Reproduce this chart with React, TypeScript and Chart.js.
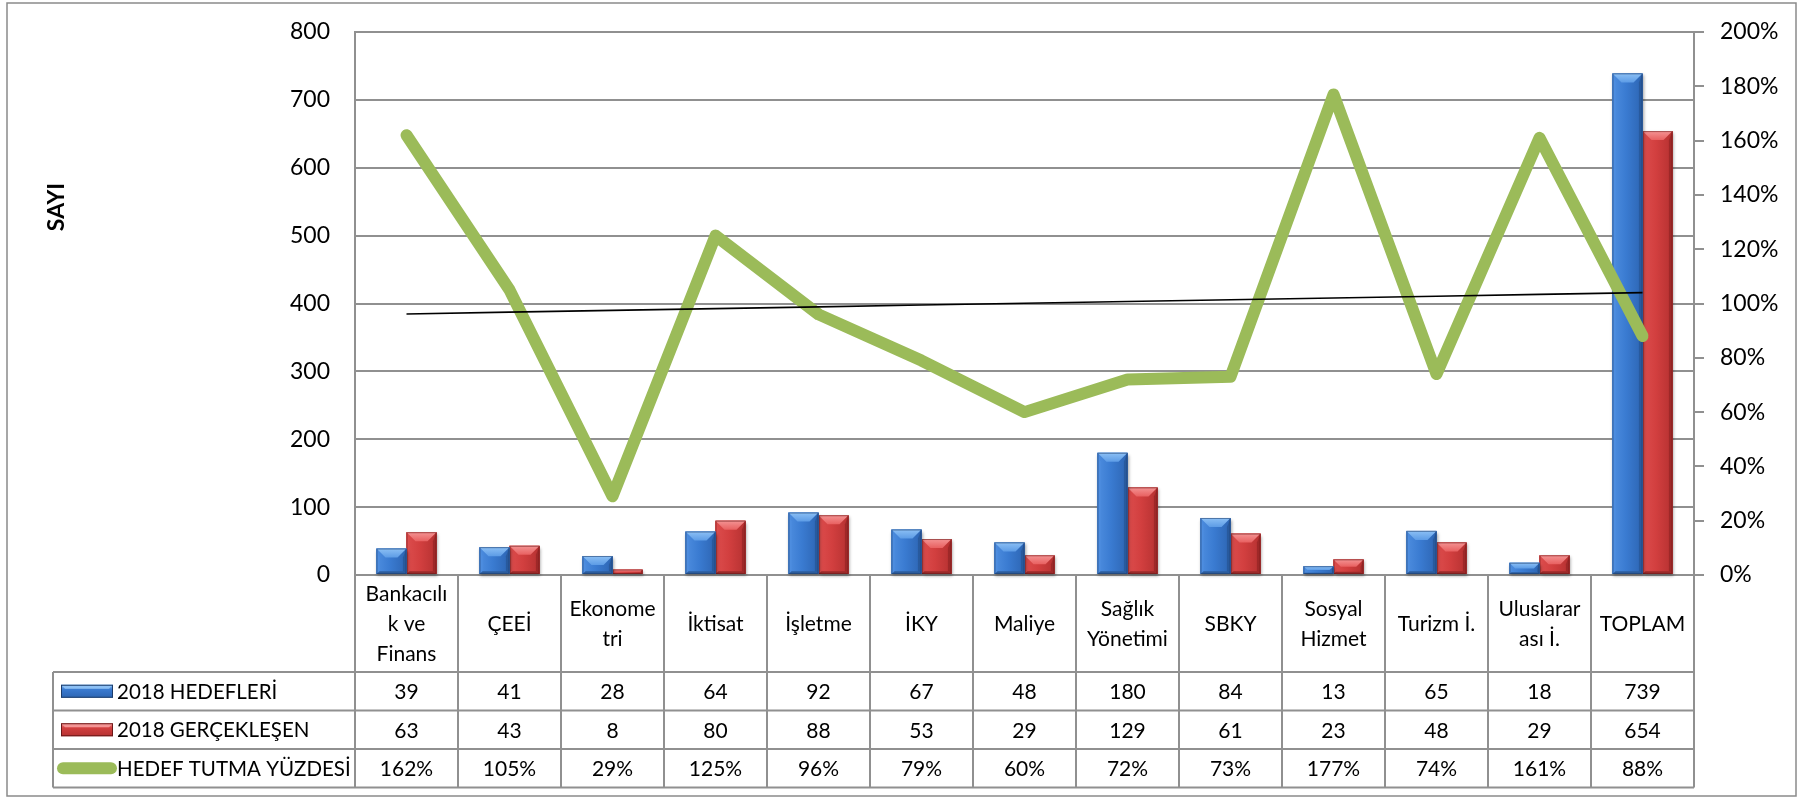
import React, { useEffect, useRef } from "react";
import { Chart, registerables } from "chart.js";

Chart.register(...registerables);

// ---- data ----
const categories: string[][] = [
  ["Bankacılı", "k ve", "Finans"],
  ["ÇEEİ"],
  ["Ekonome", "tri"],
  ["İktisat"],
  ["İşletme"],
  ["İKY"],
  ["Maliye"],
  ["Sağlık", "Yönetimi"],
  ["SBKY"],
  ["Sosyal", "Hizmet"],
  ["Turizm İ."],
  ["Uluslarar", "ası İ."],
  ["TOPLAM"],
];
const hedefler = [39, 41, 28, 64, 92, 67, 48, 180, 84, 13, 65, 18, 739];
const gerceklesen = [63, 43, 8, 80, 88, 53, 29, 129, 61, 23, 48, 29, 654];
const yuzde = [162, 105, 29, 125, 96, 79, 60, 72, 73, 177, 74, 161, 88];
const seriesNames = ["2018 HEDEFLERİ", "2018 GERÇEKLEŞEN", "HEDEF TUTMA YÜZDESİ"];
const axisTitle = "SAYI";
const leftAxisMax = 800;
const leftAxisStep = 100;
const rightAxisMax = 200;
const rightAxisStep = 20;

// linear trendline (least squares) of the percentage series, as Excel draws it
function trendline(values: number[]): number[] {
  const n = values.length;
  const xs = values.map((_, i) => i + 1);
  const mx = xs.reduce((a, b) => a + b, 0) / n;
  const my = values.reduce((a, b) => a + b, 0) / n;
  let sxy = 0, sxx = 0;
  for (let i = 0; i < n; i++) {
    sxy += (xs[i] - mx) * (values[i] - my);
    sxx += (xs[i] - mx) * (xs[i] - mx);
  }
  const slope = sxy / sxx;
  return xs.map((x) => my + slope * (x - mx));
}

const FONT = "Lato, 'Open Sans', 'Liberation Sans', sans-serif";
const GRID = "#909090";
const GREEN = "#9BBB59";

const BLUE = {
  body: "#3a7bd1",
  light: "#4d8ddf",
  dark: "#2d65b3",
  top: "#8cc0f5",
  top2: "#5d9ce6",
  right: "#285a9e",
  bottom: "#2c5c9c",
  edge: "#1d3c6a",
};
const RED = {
  body: "#d23f3f",
  light: "#dc4d4d",
  dark: "#b53131",
  top: "#f49494",
  top2: "#e86060",
  right: "#9e2828",
  bottom: "#9a2a2a",
  edge: "#6a1818",
};

function drawBevelBar(ctx: CanvasRenderingContext2D, left: number, top: number, w: number, h: number, p: any) {
  if (h <= 0) return;
  const b = Math.min(9, h / 2, w / 3);
  ctx.save();
  ctx.shadowColor = "rgba(0,0,0,0.35)";
  ctx.shadowBlur = 3;
  ctx.shadowOffsetX = 1;
  ctx.shadowOffsetY = 2;
  ctx.fillStyle = p.body;
  ctx.fillRect(left, top, w, h);
  ctx.restore();

  ctx.save();
  const g = ctx.createLinearGradient(left, 0, left + w, 0);
  g.addColorStop(0, p.light);
  g.addColorStop(0.45, p.body);
  g.addColorStop(1, p.dark);
  ctx.fillStyle = g;
  ctx.fillRect(left, top, w, h);

  ctx.beginPath();
  ctx.moveTo(left, top);
  ctx.lineTo(left + b * 0.35, top + b);
  ctx.lineTo(left + b * 0.35, top + h - b * 0.3);
  ctx.lineTo(left, top + h);
  ctx.closePath();
  ctx.fillStyle = p.light;
  ctx.fill();

  ctx.beginPath();
  ctx.moveTo(left + w, top);
  ctx.lineTo(left + w - b * 0.4, top + b);
  ctx.lineTo(left + w - b * 0.4, top + h - b * 0.3);
  ctx.lineTo(left + w, top + h);
  ctx.closePath();
  ctx.fillStyle = p.right;
  ctx.fill();

  ctx.beginPath();
  ctx.moveTo(left, top + h);
  ctx.lineTo(left + b * 0.35, top + h - b * 0.3);
  ctx.lineTo(left + w - b * 0.4, top + h - b * 0.3);
  ctx.lineTo(left + w, top + h);
  ctx.closePath();
  ctx.fillStyle = p.bottom;
  ctx.fill();

  const tg = ctx.createLinearGradient(0, top, 0, top + b);
  tg.addColorStop(0, p.top);
  tg.addColorStop(1, p.top2);
  ctx.beginPath();
  ctx.moveTo(left, top);
  ctx.lineTo(left + w, top);
  ctx.lineTo(left + w - b, top + b);
  ctx.lineTo(left + b, top + b);
  ctx.closePath();
  ctx.fillStyle = tg;
  ctx.fill();

  ctx.strokeStyle = p.edge;
  ctx.globalAlpha = 0.55;
  ctx.lineWidth = 1;
  ctx.strokeRect(left + 0.5, top + 0.5, w - 1, h - 1);
  ctx.restore();
}

function drawLegendSwatch(ctx: CanvasRenderingContext2D, kind: number, x: number, yc: number) {
  if (kind === 2) {
    ctx.save();
    ctx.strokeStyle = GREEN;
    ctx.lineWidth = 12;
    ctx.lineCap = "round";
    ctx.beginPath();
    ctx.moveTo(63, yc);
    ctx.lineTo(111, yc);
    ctx.stroke();
    ctx.restore();
    return;
  }
  const p = kind === 0 ? BLUE : RED;
  const left = x, w = 52, h = 13, top = yc - 6.5;
  ctx.save();
  const g = ctx.createLinearGradient(0, top, 0, top + h);
  g.addColorStop(0, p.top);
  g.addColorStop(0.35, p.body);
  g.addColorStop(1, p.dark);
  ctx.fillStyle = g;
  ctx.fillRect(left, top, w, h);
  ctx.beginPath();
  ctx.moveTo(left, top);
  ctx.lineTo(left + w, top);
  ctx.lineTo(left + w - 4, top + 4);
  ctx.lineTo(left + 4, top + 4);
  ctx.closePath();
  ctx.fillStyle = p.top;
  ctx.fill();
  ctx.strokeStyle = p.edge;
  ctx.lineWidth = 1;
  ctx.strokeRect(left + 0.5, top + 0.5, w - 1, h - 1);
  ctx.restore();
}

const excelPlugin = {
  id: "excelTable",
  beforeDraw(chart: any) {
    const ctx = chart.ctx as CanvasRenderingContext2D;
    ctx.save();
    ctx.fillStyle = "#ffffff";
    ctx.fillRect(0, 0, chart.width, chart.height);
    ctx.restore();
  },
  afterDatasetDraw(chart: any, args: any) {
    const meta = args.meta;
    if (meta.type !== "bar") return;
    const pal = args.index === 0 ? BLUE : RED;
    const ctx = chart.ctx as CanvasRenderingContext2D;
    meta.data.forEach((el: any) => {
      const { x, y, base, width } = el.getProps(["x", "y", "base", "width"], true);
      const top = Math.min(y, base);
      const h = Math.abs(base - y);
      drawBevelBar(ctx, x - width / 2, top, width, h, pal);
    });
  },
  afterDraw(chart: any) {
    const ctx = chart.ctx as CanvasRenderingContext2D;
    const area = chart.chartArea;
    const xs = chart.scales.x;
    const n = categories.length;
    const centers = categories.map((_, i) => xs.getPixelForValue(i));
    const bounds: number[] = [area.left];
    for (let i = 0; i < n - 1; i++) bounds.push((centers[i] + centers[i + 1]) / 2);
    bounds.push(area.right);

    const base = area.bottom;
    const headBottom = base + 97;
    const rowH = 38.5;
    const rows = [headBottom, headBottom + rowH, headBottom + 2 * rowH, headBottom + 3 * rowH];
    const legendLeft = 53;

    ctx.save();
    ctx.strokeStyle = GRID;
    ctx.lineWidth = 2;
    bounds.forEach((bx) => {
      ctx.beginPath();
      ctx.moveTo(bx, base);
      ctx.lineTo(bx, rows[3]);
      ctx.stroke();
    });
    ctx.beginPath();
    ctx.moveTo(legendLeft, rows[0]);
    ctx.lineTo(legendLeft, rows[3]);
    ctx.stroke();
    rows.forEach((ry) => {
      ctx.beginPath();
      ctx.moveTo(legendLeft, ry);
      ctx.lineTo(area.right, ry);
      ctx.stroke();
    });

    ctx.fillStyle = "#000";
    ctx.font = `21px ${FONT}`;
    ctx.textAlign = "center";
    ctx.textBaseline = "middle";
    const headMid = (base + headBottom) / 2;
    categories.forEach((lines, i) => {
      const lh = 30;
      const start = headMid - ((lines.length - 1) * lh) / 2;
      lines.forEach((t, j) => ctx.fillText(t, centers[i], start + j * lh + 1));
    });
    const rowValues = [
      hedefler.map(String),
      gerceklesen.map(String),
      yuzde.map((v) => v + "%"),
    ];
    rowValues.forEach((vals, r) => {
      const yc = (rows[r] + rows[r + 1]) / 2 + 1;
      vals.forEach((v, i) => ctx.fillText(v, centers[i], yc));
    });
    ctx.textAlign = "left";
    ctx.font = `20.5px ${FONT}`;
    seriesNames.forEach((name, r) => {
      const yc = (rows[r] + rows[r + 1]) / 2;
      drawLegendSwatch(ctx, r, 61, yc);
      ctx.fillStyle = "#000";
      ctx.fillText(name, 117, yc + 1);
    });

    ctx.save();
    ctx.translate(57, 207);
    ctx.rotate(-Math.PI / 2);
    ctx.textAlign = "center";
    ctx.textBaseline = "middle";
    ctx.font = `bold 23px ${FONT}`;
    ctx.fillText(axisTitle, 0, 0);
    ctx.restore();

    ctx.strokeStyle = "#8a8a8a";
    ctx.lineWidth = 1.5;
    ctx.strokeRect(7, 3, 1789, 793);
    ctx.restore();
  },
};

export default function App() {
  const ref = useRef<HTMLCanvasElement>(null);
  useEffect(() => {
    let chart: Chart | null = null;
    let cancelled = false;
    const make = () => {
      if (cancelled || !ref.current) return;
      Chart.defaults.font.family = FONT;
      chart = new Chart(ref.current, {
        type: "bar",
        data: {
          labels: categories.map((c) => c.join(" ")),
          datasets: [
            {
              type: "bar",
              label: seriesNames[0],
              data: hedefler,
              backgroundColor: BLUE.body,
              borderWidth: 0,
              yAxisID: "y",
              order: 2,
              categoryPercentage: 0.583,
              barPercentage: 1,
            },
            {
              type: "bar",
              label: seriesNames[1],
              data: gerceklesen,
              backgroundColor: RED.body,
              borderWidth: 0,
              yAxisID: "y",
              order: 3,
              categoryPercentage: 0.583,
              barPercentage: 1,
            },
            {
              type: "line",
              label: seriesNames[2],
              data: yuzde,
              borderColor: GREEN,
              backgroundColor: GREEN,
              borderWidth: 12,
              borderCapStyle: "round",
              borderJoinStyle: "round",
              pointRadius: 0,
              tension: 0,
              yAxisID: "y1",
              order: 1,
              clip: false as any,
            },
            {
              type: "line",
              label: "trend",
              data: trendline(yuzde),
              borderColor: "#000000",
              borderWidth: 1.6,
              pointRadius: 0,
              tension: 0,
              yAxisID: "y1",
              order: 0,
            },
          ],
        } as any,
        options: {
          responsive: false,
          animation: false,
          devicePixelRatio: 1,
          layout: { padding: { top: 32, bottom: 223, left: 0, right: 0 } },
          plugins: { legend: { display: false }, tooltip: { enabled: false }, title: { display: false } },
          scales: {
            x: { display: false, offset: true, grid: { display: false } },
            y: {
              position: "left",
              min: 0,
              max: leftAxisMax,
              ticks: { stepSize: leftAxisStep, padding: 25, color: "#000", font: { size: 23, family: FONT } },
              grid: { color: GRID, lineWidth: 2, drawTicks: false },
              border: { display: true, color: GRID, width: 2 },
              afterFit: (s: any) => {
                s.width = 355;
                s.paddingTop = 0;
                s.paddingBottom = 0;
              },
            },
            y1: {
              position: "right",
              min: 0,
              max: rightAxisMax,
              ticks: {
                stepSize: rightAxisStep,
                padding: 16,
                color: "#000",
                font: { size: 23, family: FONT },
                callback: (v: any) => v + "%",
              },
              grid: { drawOnChartArea: false, color: GRID, lineWidth: 2, tickLength: 10, drawTicks: true },
              border: { display: true, color: GRID, width: 2 },
              afterFit: (s: any) => {
                s.width = 112;
                s.paddingTop = 0;
                s.paddingBottom = 0;
              },
            },
          },
        } as any,
        plugins: [excelPlugin],
      });
    };
    const fonts = (document as any).fonts;
    if (fonts && fonts.load) {
      Promise.all([fonts.load(`23px Lato`), fonts.load(`bold 23px Lato`)]).then(make, make);
    } else make();
    return () => {
      cancelled = true;
      if (chart) chart.destroy();
    };
  }, []);
  return (
    <div style={{ position: "fixed", left: 0, top: 0, width: 1806, height: 798, background: "#fff" }}>
      <canvas ref={ref} width={1806} height={798} style={{ display: "block", width: 1806, height: 798 }} />
    </div>
  );
}
